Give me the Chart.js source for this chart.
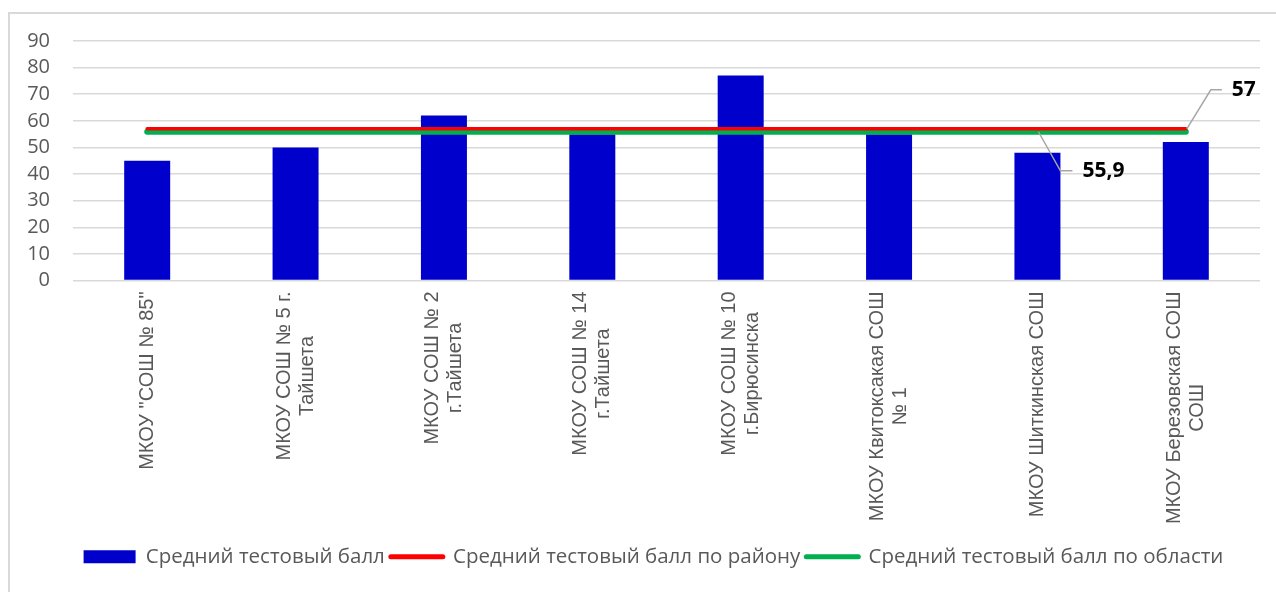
<!DOCTYPE html>
<html lang="ru">
<head>
    <meta charset="UTF-8">
    <title>Средний тестовый балл</title>
    <script src="https://cdn.jsdelivr.net/npm/chart.js"></script>
    <style>
        body {
            margin: 0;
            background: #ffffff;
            overflow: hidden;
            width: 1276px;
            height: 592px;
            position: relative;
        }

        .frame {
            position: absolute;
            left: 8px;
            top: 12px;
            width: 1336px;
            height: 592px;
            border: 2px solid #d9d9d9;
            background: #ffffff;
        }
    </style>
</head>
<body>
    <div class="frame">
        <canvas id="chart" width="1336" height="592"></canvas>
    </div>

    <script>
        // данные
        const schools = [
            ['МКОУ "СОШ № 85"'],
            ['МКОУ СОШ № 5 г.', 'Тайшета'],
            ['МКОУ СОШ № 2', 'г.Тайшета'],
            ['МКОУ СОШ № 14', 'г.Тайшета'],
            ['МКОУ СОШ № 10', 'г.Бирюсинска'],
            ['МКОУ Квитоксакая СОШ', '№ 1'],
            ['МКОУ Шиткинская СОШ'],
            ['МКОУ Березовская СОШ', 'СОШ']
        ];
        const schoolScores = [45, 50, 62, 55, 77, 55, 48, 52];
        const districtScores = [57, 57, 57, 57, 57, 57, 57, 57];
        const regionScores = [55.9, 55.9, 55.9, 55.9, 55.9, 55.9, 55.9, 55.9];
        const yTicks = [0, 10, 20, 30, 40, 50, 60, 70, 80, 90];

        const textGray = '#595959';
        const gridGray = '#d9d9d9';
        const labelFont = '20px "Liberation Sans", Arial, sans-serif';

        // подписи оси X по центру (как в Excel)
        const xLabelsPlugin = {
            id: 'xLabels',
            afterLayout(chart) {
                // легенда в Excel чуть правее центра
                chart.legend.left += 10;
                chart.legend.right += 10;
            },
            afterDraw(chart) {
                const ctx = chart.ctx;
                const xs = chart.scales.x;
                const top = xs.top + 11;
                const lineH = 23;
                ctx.save();
                ctx.font = labelFont;
                ctx.fillStyle = textGray;
                ctx.textAlign = 'center';
                ctx.textBaseline = 'middle';
                schools.forEach((lines, i) => {
                    const x = xs.getPixelForValue(i);
                    const w = Math.max(...lines.map(l => ctx.measureText(l).width));
                    ctx.save();
                    ctx.translate(x, top);
                    ctx.rotate(-Math.PI / 2);
                    lines.forEach((l, j) => {
                        const off = (j - (lines.length - 1) / 2) * lineH;
                        ctx.fillText(l, -w / 2, off);
                    });
                    ctx.restore();
                });
                ctx.restore();
            }
        };

        // подписи значений с выносками
        const valueLabelsPlugin = {
            id: 'valueLabels',
            afterDatasetsDraw(chart) {
                const ctx = chart.ctx;
                const items = [
                    { ds: 1, idx: 7, text: '57', dx: 24, dy: -39, ex: 35 },
                    { ds: 2, idx: 6, text: '55,9', dx: 22, dy: 39, ex: 34 }
                ];
                ctx.save();
                items.forEach(it => {
                    const pt = chart.getDatasetMeta(it.ds).data[it.idx];
                    const px = pt.x + 1, py = pt.y;
                    ctx.strokeStyle = '#a6a6a6';
                    ctx.lineWidth = 1.5;
                    ctx.beginPath();
                    ctx.moveTo(px, py);
                    ctx.lineTo(px + it.dx, py + it.dy);
                    ctx.lineTo(px + it.ex, py + it.dy);
                    ctx.stroke();
                    ctx.font = 'bold 21px "Open Sans", sans-serif';
                    ctx.fillStyle = '#000000';
                    ctx.textAlign = 'left';
                    ctx.textBaseline = 'middle';
                    ctx.fillText(it.text, px + it.ex + 10, py + it.dy);
                });
                ctx.restore();
            }
        };

        const ctx = document.getElementById('chart').getContext('2d');
        new Chart(ctx, {
            type: 'bar',
            data: {
                labels: schools,
                datasets: [
                    {
                        label: 'Средний тестовый балл',
                        data: schoolScores,
                        backgroundColor: '#0000cc',
                        categoryPercentage: 1,
                        barPercentage: 0.31,
                        order: 3
                    },
                    {
                        type: 'line',
                        label: 'Средний тестовый балл по району',
                        data: districtScores,
                        borderColor: '#ff0000',
                        backgroundColor: '#ff0000',
                        borderWidth: 3.5,
                        borderCapStyle: 'round',
                        pointRadius: 0,
                        order: 1
                    },
                    {
                        type: 'line',
                        label: 'Средний тестовый балл по области',
                        data: regionScores,
                        borderColor: '#00b050',
                        backgroundColor: '#00b050',
                        borderWidth: 6,
                        borderCapStyle: 'round',
                        pointRadius: 0,
                        order: 2
                    }
                ]
            },
            options: {
                responsive: false,
                animation: false,
                layout: {
                    padding: { top: 27, left: 17, right: 86, bottom: 29 }
                },
                scales: {
                    x: {
                        grid: { display: false },
                        border: { display: false },
                        afterFit(scale) {
                            scale.height = 260;
                        },
                        ticks: {
                            color: 'transparent',
                            maxRotation: 90,
                            minRotation: 90,
                            font: { size: 20, family: '"Liberation Sans", Arial, sans-serif' }
                        }
                    },
                    y: {
                        min: 0,
                        max: 90,
                        afterBuildTicks(axis) {
                            axis.ticks = yTicks.map(v => ({ value: v }));
                        },
                        afterFit(scale) {
                            scale.width = 46;
                        },
                        grid: {
                            color: gridGray,
                            lineWidth: 1.5,
                            drawTicks: true,
                            tickLength: 23,
                            tickColor: 'transparent'
                        },
                        border: { display: false },
                        ticks: {
                            autoSkip: false,
                            color: textGray,
                            padding: 0,
                            font: { size: 20, family: '"Open Sans", sans-serif' }
                        }
                    }
                },
                plugins: {
                    tooltip: { enabled: false },
                    legend: {
                        position: 'bottom',
                        labels: {
                            color: textGray,
                            font: { size: 20.5, family: '"Open Sans", sans-serif' },
                            usePointStyle: true,
                            pointStyleWidth: 52,
                            boxHeight: 13,
                            padding: 6,
                            generateLabels(chart) {
                                return chart.data.datasets.map((ds, i) => ({
                                    text: ds.label,
                                    datasetIndex: i,
                                    fillStyle: ds.backgroundColor,
                                    strokeStyle: ds.borderColor || ds.backgroundColor,
                                    lineWidth: i === 0 ? 0 : 5,
                                    lineCap: 'round',
                                    pointStyle: i === 0 ? 'rect' : 'line',
                                    fontColor: textGray
                                }));
                            }
                        }
                    }
                }
            },
            plugins: [xLabelsPlugin, valueLabelsPlugin]
        });
    </script>
</body>
</html>
